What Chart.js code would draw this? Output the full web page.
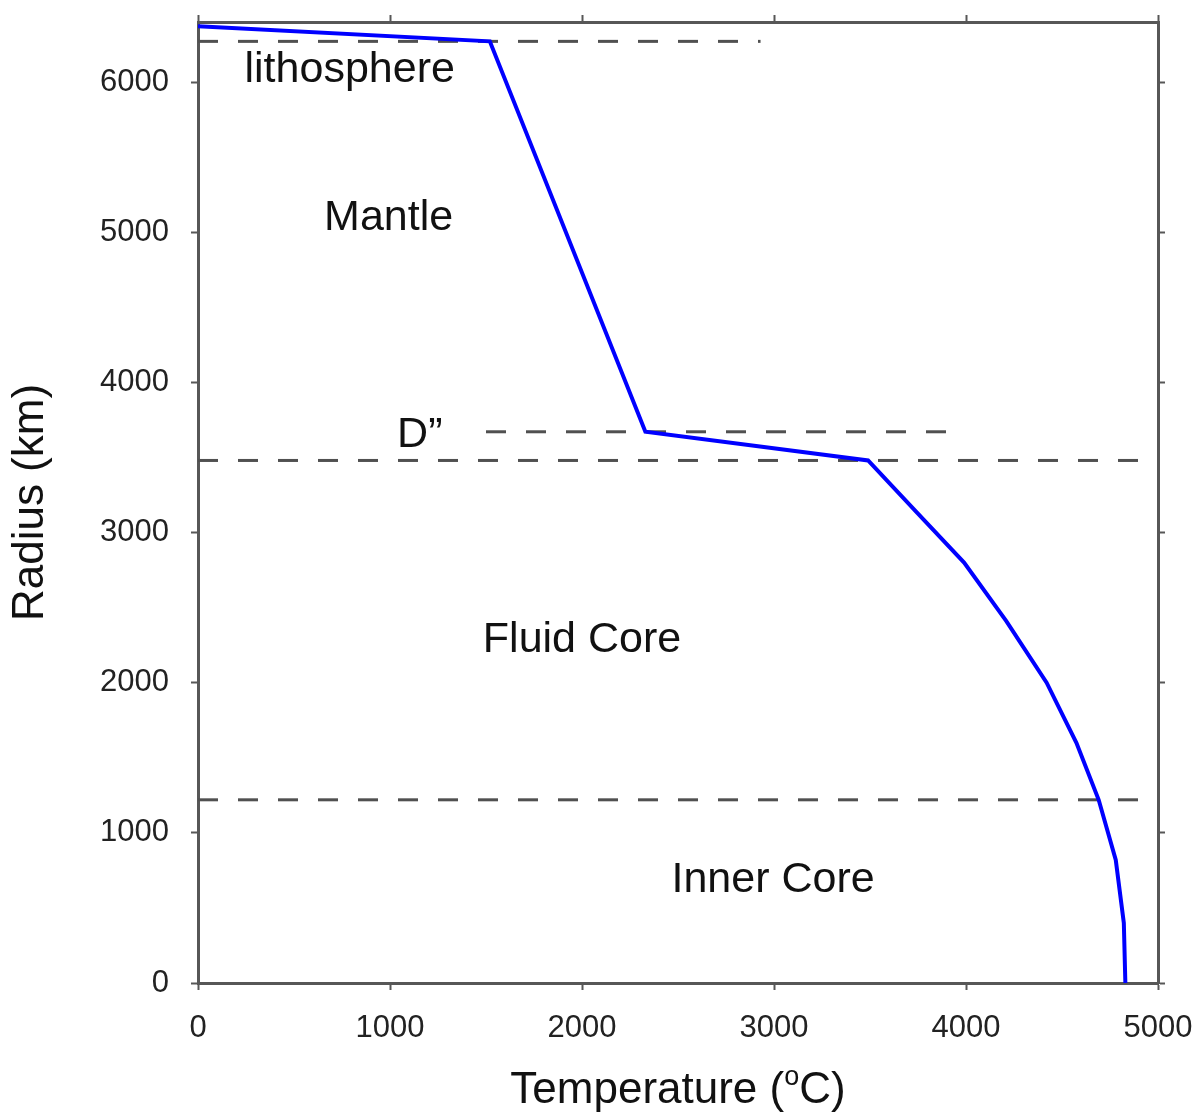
<!DOCTYPE html>
<html>
<head>
<meta charset="utf-8">
<script src="https://cdn.jsdelivr.net/npm/chart.js@4/dist/chart.umd.min.js"></script>
<style>
  html, body { margin: 0; padding: 0; background: #fff; }
  #wrap { width: 1195px; height: 1115px; position: relative; }
</style>
</head>
<body>
<div id="wrap"><canvas id="c" width="1195" height="1115"></canvas></div>
<script>
// Temperature profile (°C) vs radius (km)
const temperature = [0, 1520, 2330, 3490, 3740, 3990, 4210, 4420, 4575, 4691, 4780, 4822, 4830];
const radius      = [6371, 6271, 3671, 3480, 3140, 2800, 2410, 2000, 1600, 1220, 820, 400, 0];

// Boundary lines (dashed)
const lithoX = [0, 2930];    const lithoR = [6271, 6271];
const dppX   = [1500, 4000]; const dppR   = [3671, 3671];
const cmbX   = [0, 4900];    const cmbR   = [3480, 3480];
const icbX   = [0, 4900];    const icbR   = [1220, 1220];

// Region labels
const regionNames = ["lithosphere", "Mantle", "D\u201D", "Fluid Core", "Inner Core"];
const regionX = [790, 993, 1155, 2000, 2995];
const regionR = [6081, 5094, 3648, 2282, 684];

// Ticks
const xTicks = [0, 1000, 2000, 3000, 4000, 5000];
const yTicks = [0, 1000, 2000, 3000, 4000, 5000, 6000];

const FONT = "'Liberation Sans', Arial, Helvetica, sans-serif";
const AX = '#575757';

const pts = (xs, ys) => xs.map((x, i) => ({ x: x, y: ys[i] }));

const dashed = (xs, ys) => ({
  data: pts(xs, ys),
  borderColor: '#505050',
  borderWidth: 3,
  borderDash: [20, 20],
  pointRadius: 0,
  fill: false
});

const labelsPlugin = {
  id: 'labelsPlugin',
  afterDatasetsDraw(chart) {
    const ctx = chart.ctx;
    const xs = chart.scales.x, ys = chart.scales.y;
    ctx.save();
    ctx.fillStyle = '#111';
    ctx.font = '43px ' + FONT;
    ctx.textAlign = 'center';
    ctx.textBaseline = 'middle';
    regionNames.forEach((n, i) => {
      ctx.fillText(n, xs.getPixelForValue(regionX[i]), ys.getPixelForValue(regionR[i]));
    });
    // x-axis title with superscript o
    const cx = (chart.chartArea.left + chart.chartArea.right) / 2;
    const ty = 1088;
    const p1 = 'Temperature (', sup = 'o', p2 = 'C)';
    ctx.font = '44px ' + FONT;
    const w1 = ctx.measureText(p1).width;
    const w3 = ctx.measureText(p2).width;
    ctx.font = '27px ' + FONT;
    const w2 = ctx.measureText(sup).width;
    let x0 = cx - (w1 + w2 + w3) / 2;
    ctx.textAlign = 'left';
    ctx.textBaseline = 'alphabetic';
    ctx.font = '44px ' + FONT;
    ctx.fillText(p1, x0, ty + 15);
    ctx.font = '27px ' + FONT;
    ctx.fillText(sup, x0 + w1, ty - 3);
    ctx.font = '44px ' + FONT;
    ctx.fillText(p2, x0 + w1 + w2, ty + 15);
    ctx.restore();
  }
};

const commonGrid = {
  drawOnChartArea: false,
  drawTicks: true,
  tickLength: 7,
  tickColor: AX,
  tickWidth: 2,
  color: AX
};

const zeroPad = s => { s.paddingLeft = 0; s.paddingRight = 0; s.paddingTop = 0; s.paddingBottom = 0; };

new Chart(document.getElementById('c'), {
  type: 'line',
  data: {
    datasets: [
      {
        data: pts(temperature, radius),
        borderColor: '#0000ff',
        borderWidth: 4,
        pointRadius: 0,
        fill: false,
        tension: 0
      },
      dashed(lithoX, lithoR),
      dashed(dppX, dppR),
      dashed(cmbX, cmbR),
      dashed(icbX, icbR)
    ]
  },
  options: {
    responsive: false,
    animation: false,
    devicePixelRatio: 1,
    layout: { padding: { left: 0, right: 37, top: 22, bottom: 0 } },
    plugins: { legend: { display: false }, tooltip: { enabled: false } },
    scales: {
      x: {
        type: 'linear', position: 'bottom', min: 0, max: 5000,
        afterBuildTicks: s => { s.ticks = xTicks.map(v => ({ value: v })); },
        afterFit: s => { s.height = 132; zeroPad(s); },
        grid: commonGrid,
        border: { display: true, color: AX, width: 3 },
        ticks: { color: '#222', font: { size: 31, family: FONT }, padding: 20, maxRotation: 0, callback: v => String(v) }
      },
      x2: {
        type: 'linear', position: 'top', min: 0, max: 5000,
        afterBuildTicks: s => { s.ticks = xTicks.map(v => ({ value: v })); },
        afterFit: s => { s.height = 0; zeroPad(s); },
        grid: commonGrid,
        border: { display: true, color: AX, width: 3 },
        ticks: { display: false }
      },
      y: {
        type: 'linear', position: 'left', min: 0, max: 6400,
        afterBuildTicks: s => { s.ticks = yTicks.map(v => ({ value: v })); },
        afterFit: s => { s.width = 198; zeroPad(s); },
        grid: commonGrid,
        border: { display: true, color: AX, width: 3 },
        ticks: { color: '#222', font: { size: 31, family: FONT }, padding: 22, callback: v => String(v) },
        title: { display: true, text: 'Radius (km)', color: '#111', font: { size: 44, family: FONT }, padding: { top: 4, bottom: 0 } }
      },
      y2: {
        type: 'linear', position: 'right', min: 0, max: 6400,
        afterBuildTicks: s => { s.ticks = yTicks.map(v => ({ value: v })); },
        afterFit: s => { s.width = 0; zeroPad(s); },
        grid: commonGrid,
        border: { display: true, color: AX, width: 3 },
        ticks: { display: false }
      }
    }
  },
  plugins: [labelsPlugin]
});
</script>
</body>
</html>
